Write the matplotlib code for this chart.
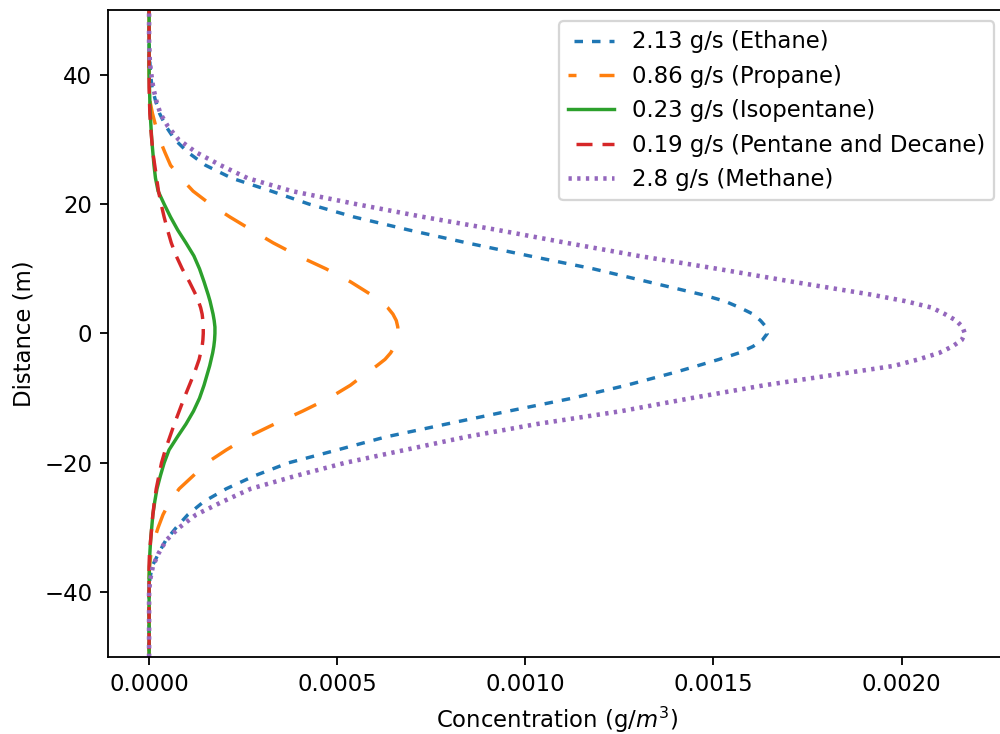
import matplotlib
matplotlib.use("Agg")
import matplotlib.pyplot as plt

# Vertical distance from the plume centre line (m)
distance = [-50, -45, -40, -38, -36, -34, -32, -30, -28, -26, -24, -22, -20, -18,
            -16, -14, -12, -10, -8, -6, -5, -4, -3, -2, -1, 0, 1, 2, 3, 4, 5, 6,
            8, 10, 12, 14, 16, 18, 20, 22, 24, 26, 28, 30, 32, 34, 36, 38, 40, 42,
            45, 50]

# Concentration profiles in micrograms per cubic metre
ethane = [0, 0, 0, 2, 8, 25, 44, 72, 103, 145, 205, 280, 370, 500,
          628, 790, 955, 1125, 1269, 1398, 1457, 1515, 1568, 1605, 1630, 1643, 1640, 1625, 1605, 1570, 1530, 1470,
          1325, 1180, 1010, 845, 690, 545, 425, 325, 220, 150, 103, 68, 45, 28, 17, 8, 4, 2,
          0, 0]
propane = [0, 0, 0, 0, 1, 5, 13, 24, 37, 55, 80, 117, 153, 205,
           262, 333, 408, 478, 535, 580, 605, 627, 642, 652, 658, 661, 661, 657, 648, 634, 614, 590,
           535, 470, 396, 330, 272, 215, 162, 117, 85, 57, 42, 28, 18, 9, 2, 1, 0, 0,
           0, 0]
isopentane = [0, 0, 0, 0, 1, 2, 4, 7, 10, 15, 21, 30, 40, 53,
              75, 98, 118, 134, 146, 156, 161, 165, 169, 172, 174, 175, 175, 173, 170, 166, 162, 157,
              146, 134, 119, 98, 76, 57, 40, 24, 17, 13, 10, 7, 5, 3, 2, 1, 0, 0,
              0, 0]
pentane_decane = [0, 0, 0, 0, 0, 1, 4, 7, 10, 14, 19, 26, 33, 43,
                  55, 67, 80, 93, 107, 121, 127, 133, 137, 141, 143, 144, 144, 143, 141, 137, 131, 124,
                  107, 88, 72, 59, 49, 40, 32, 25, 20, 15, 10, 7, 4, 2, 1, 0, 0, 0,
                  0, 0]
methane = [0, 0, 0, 3, 10, 25, 45, 80, 125, 195, 270, 390, 520, 680,
           841, 1030, 1255, 1440, 1635, 1865, 1980, 2045, 2100, 2135, 2160, 2168, 2162, 2145, 2115, 2080, 2010, 1920,
           1710, 1510, 1300, 1110, 926, 730, 550, 380, 262, 190, 125, 78, 50, 30, 19, 11, 6, 2,
           0, 0]

labels = ["2.13 g/s (Ethane)", "0.86 g/s (Propane)", "0.23 g/s (Isopentane)",
          "0.19 g/s (Pentane and Decane)", "2.8 g/s (Methane)"]

UG = 1e-6  # micrograms -> grams

S = 1.64  # overall size factor
plt.rcParams.update({
    "font.family": ["DejaVu Sans"],
    "font.size": 10 * S,
    "axes.linewidth": 0.8 * S,
    "xtick.major.size": 3.5 * S,
    "ytick.major.size": 3.5 * S,
    "xtick.major.width": 0.8 * S,
    "ytick.major.width": 0.8 * S,
    "xtick.major.pad": 3.5 * S,
    "ytick.major.pad": 3.5 * S,
    "axes.labelpad": 4.0 * S,
    "lines.scale_dashes": False,
    "legend.framealpha": 0.8,
})

PX = 0.72  # points per pixel at 100 dpi
lw = 1.5 * S

fig = plt.figure(figsize=(10.0, 7.34), dpi=100)
ax = fig.add_axes([0.1083, 0.1049, 0.8973, 0.8815])

ax.plot([c * UG for c in ethane], distance, color="#1f77b4", lw=lw,
        linestyle=(11.5 * PX, (8.5 * PX, 9.0 * PX)), label=labels[0])
ax.plot([c * UG for c in propane], distance, color="#ff7f0e", lw=lw,
        linestyle=(16 * PX, (24 * PX, 23 * PX)), label=labels[1])
ax.plot([c * UG for c in isopentane], distance, color="#2ca02c", lw=lw,
        linestyle="-", label=labels[2])
ax.plot([c * UG for c in pentane_decane], distance, color="#d62728", lw=lw,
        linestyle=(18 * PX, (16 * PX, 10 * PX)), label=labels[3])
ax.plot([c * UG for c in methane], distance, color="#9467bd", lw=2.0 * S,
        linestyle=(0, (3.3 * PX, 5.4 * PX)), label=labels[4])

ax.set_ylim(-50, 50)
ax.spines["right"].set_visible(False)
ax.set_xlabel("Concentration (g/$m^3$)")
ax.set_ylabel("Distance (m)")
leg = ax.legend(loc="upper right")
leg.get_frame().set_linewidth(1.0 * S)

fig.savefig("out.png", dpi=100)
